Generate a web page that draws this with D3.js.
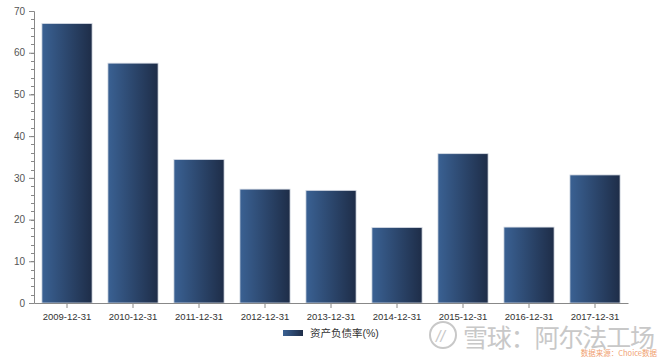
<!DOCTYPE html>
<html><head><meta charset="utf-8">
<script src="https://cdn.jsdelivr.net/npm/d3@7"></script>
<style>body{margin:0;background:#fff;}svg{display:block;font-family:Arial,"Liberation Sans","Noto Sans CJK SC",sans-serif;}</style>
</head><body>
<script>
const categories = ["2009-12-31","2010-12-31","2011-12-31","2012-12-31","2013-12-31","2014-12-31","2015-12-31","2016-12-31","2017-12-31"];
const values = [67.0, 57.5, 34.4, 27.3, 27.0, 18.1, 35.8, 18.2, 30.7];
const seriesName = "资产负债率(%)";
const yTicks = [0,10,20,30,40,50,60,70];

const W = 660, H = 357;
const m = {left:34, right:32, top:11, bottom:54};
const svg = d3.select("body").append("svg").attr("width",W).attr("height",H);
const defs = svg.append("defs");
const g = defs.append("linearGradient").attr("id","bg").attr("x1","0").attr("x2","1").attr("y1","0").attr("y2","0");
g.append("stop").attr("offset","0%").attr("stop-color","#3a6193");
g.append("stop").attr("offset","100%").attr("stop-color","#1e2d48");

const x = d3.scaleBand().domain(categories).range([m.left, W-m.right]).paddingInner(0.24).paddingOuter(0.12);
const y = d3.scaleLinear().domain([0,70]).range([H-m.bottom, m.top]);

// bars
svg.append("g").selectAll("rect").data(values).join("rect")
  .attr("x",(d,i)=>x(categories[i])).attr("y",d=>y(d))
  .attr("width",x.bandwidth()).attr("height",d=>y(0)-y(d))
  .attr("fill","url(#bg)").attr("stroke","#d8dde6").attr("stroke-width",0.8);

// y axis minor ticks
const minor = d3.range(0,70.001,2);
const ya = svg.append("g").attr("transform",`translate(${m.left},0)`);
ya.selectAll("line.mn").data(minor).join("line").attr("class","mn")
  .attr("x1",-3).attr("x2",0).attr("y1",d=>Math.round(y(d))+0.5).attr("y2",d=>Math.round(y(d))+0.5)
  .attr("stroke","#888");
ya.call(d3.axisLeft(y).tickValues(yTicks).tickSize(5).tickPadding(4))
  .call(s=>s.select(".domain").attr("stroke","#888"))
  .call(s=>s.selectAll(".tick line").attr("stroke","#888"))
  .call(s=>s.selectAll("text").attr("fill","#555").attr("font-size",10).attr("font-family","Arial,'Liberation Sans',sans-serif"));

// x axis
svg.append("g").attr("transform",`translate(0,${y(0)})`)
  .call(d3.axisBottom(x).tickSize(5).tickSizeOuter(0).tickPadding(5))
  .call(s=>s.select(".domain").attr("stroke","#888"))
  .call(s=>s.selectAll(".tick line").attr("stroke","#888"))
  .call(s=>s.selectAll("text").attr("fill","#333").attr("font-size",9.5).attr("font-family","Arial,'Liberation Sans',sans-serif"));

// legend
const lg = svg.append("g").attr("transform","translate(283,333)");
lg.append("rect").attr("x",0).attr("y",-3).attr("width",20).attr("height",6).attr("fill","url(#bg)");
lg.append("text").attr("x",27).attr("y",4).attr("font-size",10.5).attr("fill","#333").text(seriesName);

// watermark
const wm = svg.append("g");
wm.append("circle").attr("cx",443).attr("cy",335).attr("r",13).attr("fill","none").attr("stroke","#c8c8c8").attr("stroke-width",2);
wm.append("text").attr("x",436).attr("y",342).attr("font-size",16).attr("fill","#c8c8c8").attr("font-style","italic").text("//");
wm.append("text").attr("x",463).attr("y",347).attr("font-size",25).attr("fill","#c8c8c8")
  .attr("font-family","'Noto Sans CJK SC',sans-serif").attr("textLength",192).text("雪球：阿尔法工场");
wm.append("text").attr("x",657).attr("y",356).attr("text-anchor","end").attr("font-size",7.5).attr("fill","#f0a070")
  .attr("font-family","'Noto Sans CJK SC',sans-serif").text("数据来源：Choice数据");
</script>
</body></html>
